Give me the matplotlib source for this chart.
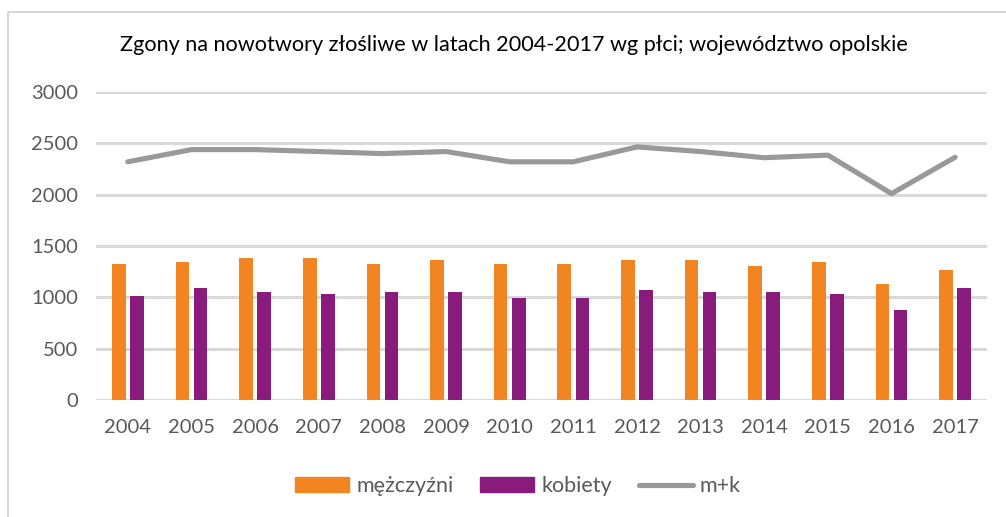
import matplotlib
matplotlib.use("Agg")
import matplotlib.pyplot as plt
import numpy as np
from matplotlib.patches import Rectangle, Patch
from matplotlib.lines import Line2D

years = ["2004", "2005", "2006", "2007", "2008", "2009", "2010",
         "2011", "2012", "2013", "2014", "2015", "2016", "2017"]
men = [1326, 1345, 1384, 1384, 1326, 1365, 1326,
       1326, 1365, 1365, 1306, 1345, 1132, 1268]
women = [1016, 1094, 1055, 1036, 1055, 1055, 997,
         997, 1074, 1055, 1055, 1036, 881, 1094]
total = [2320, 2439, 2439, 2420, 2400, 2420, 2320,
         2320, 2465, 2420, 2360, 2385, 2010, 2365]

title = "Zgony na nowotwory złośliwe w latach 2004-2017 wg płci; województwo opolskie"
labels = ["mężczyźni", "kobiety", "m+k"]

c_men = "#F28522"
c_women = "#891B7D"
c_tot = "#98999B"
c_grid = "#D9D9D9"
c_txt = "#595959"

plt.rcParams["font.family"] = ["Lato", "DejaVu Sans"]

W, H = 1006, 517
fig = plt.figure(figsize=(W / 100, H / 100), dpi=100)
ax = fig.add_axes([96 / W, (H - 400) / H, (987 - 96) / W, (400 - 92) / H])

x = np.arange(len(years))
off = 0.142
bw = 0.214
ax.bar(x - off, men, width=bw, color=c_men, zorder=3)
ax.bar(x + off, women, width=bw, color=c_women, zorder=3)
ax.plot(x, total, color=c_tot, lw=3.7, solid_capstyle="round", zorder=4)

ax.set_xlim(-0.5, len(years) - 0.5)
ax.set_ylim(0, 3000)
ax.set_yticks(np.arange(0, 3001, 500))
ax.set_xticks(x)
ax.set_xticklabels(years)
ax.yaxis.grid(True, color=c_grid, lw=2.2, zorder=0)
ax.set_axisbelow(True)
for s in ax.spines.values():
    s.set_visible(False)
ax.tick_params(axis="both", length=0, labelsize=14.5, colors=c_txt)
ax.tick_params(axis="y", pad=13)
ax.tick_params(axis="x", pad=14)

fig.text(514 / W, (H - 45) / H, title, ha="center", va="center",
         fontsize=15.6, color="black")

handles = [Patch(color=c_men), Patch(color=c_women),
           Line2D([], [], color=c_tot, lw=3.7, solid_capstyle="round")]
fig.legend(handles, labels, loc="center", bbox_to_anchor=(518 / W, (H - 486) / H),
           ncol=3, frameon=False, fontsize=15.5, labelcolor=c_txt,
           handlelength=2.5, handleheight=0.65, handletextpad=0.33,
           columnspacing=1.25)

fig.patches.append(Rectangle((8 / W, -0.1), 1.2, (H - 12) / H + 0.1,
                             transform=fig.transFigure, fill=False,
                             edgecolor="#D0D0D0", lw=1.2, zorder=0))

fig.savefig("out.png", dpi=100)
